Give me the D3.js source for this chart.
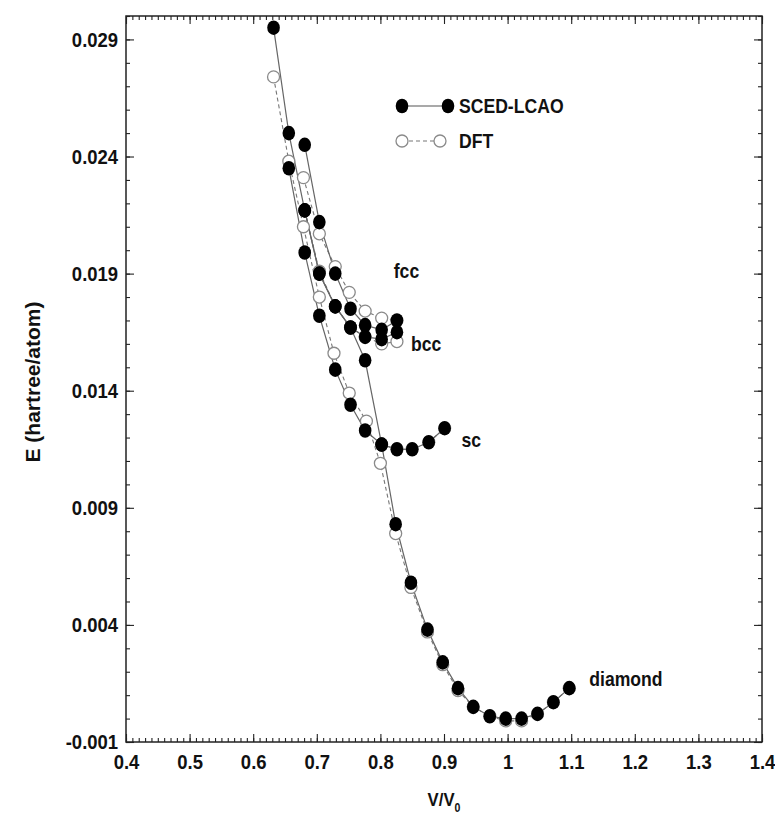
<!DOCTYPE html>
<html><head><meta charset="utf-8">
<script src="https://cdn.jsdelivr.net/npm/d3@7/dist/d3.min.js"></script>
<style>body{margin:0;background:#fff}svg{display:block}</style>
</head><body><svg id="c" width="775" height="819"></svg>
<script>
// ---- data ----
const xTickValues = [0.4,0.5,0.6,0.7,0.8,0.9,1.0,1.1,1.2,1.3,1.4];
const xTickLabels = ["0.4","0.5","0.6","0.7","0.8","0.9","1","1.1","1.2","1.3","1.4"];
const yTickValues = [-0.001,0.004,0.009,0.014,0.019,0.024,0.029];
const yTickLabels = ["-0.001","0.004","0.009","0.014","0.019","0.024","0.029"];

// SCED-LCAO (filled)
const scedDiamondV = [0.632,0.656,0.681,0.704,0.729,0.753,0.776,0.802,0.824,0.848,0.874,0.898,0.922,0.946,0.972,0.997,1.022,1.047,1.072,1.097];
const scedDiamondE = [0.0295,0.0250,0.0217,0.0190,0.0176,0.0167,0.0153,0.0117,0.0083,0.0058,0.0038,0.0024,0.0013,0.0005,0.0001,0.0000,0.0000,0.0002,0.0007,0.0013];
const scedScV = [0.656,0.681,0.704,0.729,0.753,0.776,0.802,0.826,0.850,0.876,0.901];
const scedScE = [0.0235,0.0199,0.0172,0.0149,0.0134,0.0123,0.0117,0.0115,0.0115,0.0118,0.0124];
const scedBccV = [0.681,0.704,0.729,0.753,0.776,0.802,0.826];
const scedBccE = [0.0217,0.0190,0.0176,0.0167,0.0163,0.0162,0.0165];
const scedFccV = [0.681,0.704,0.729,0.753,0.776,0.802,0.826];
const scedFccE = [0.0245,0.0212,0.0190,0.0175,0.0168,0.0166,0.0170];

// DFT (open)
const dftDiamondV = [0.632,0.656,0.679,0.704,0.727,0.751,0.778,0.800,0.824,0.848,0.874,0.898,0.922,0.946,0.972,0.997,1.022,1.047,1.072,1.097];
const dftDiamondE = [0.0274,0.0238,0.0210,0.0180,0.0156,0.0139,0.0127,0.0109,0.0079,0.0056,0.0037,0.0023,0.0012,0.0005,0.0001,-0.0001,-0.0001,0.0002,0.0007,0.0013];
const dftScV = [0.802,0.826,0.850,0.876,0.901];
const dftScE = [0.0117,0.0115,0.0115,0.0118,0.0124];
const dftBccV = [0.681,0.704,0.729,0.753,0.776,0.802,0.826];
const dftBccE = [0.0217,0.0191,0.0176,0.0167,0.0163,0.0160,0.0161];
const dftFccV = [0.679,0.704,0.729,0.751,0.776,0.802,0.826];
const dftFccE = [0.0231,0.0207,0.0193,0.0182,0.0174,0.0171,0.0170];

const structLabels = ["fcc","bcc","sc","diamond"];
const structLabelV = [0.841,0.872,0.943,1.186];
const structLabelE = [0.0191,0.0160,0.0119,0.0017];
const legendNames = ["SCED-LCAO","DFT"];

// ---- drawing ----
const svg = d3.select("#c");
const x = d3.scaleLinear().domain([0.4,1.4]).range([126,762]);
const y = d3.scaleLinear().domain([-0.001,0.030]).range([742,16]);
const FONT = "'Liberation Sans', Arial, sans-serif";
const SX = 0.88;

const zip = (a,b) => a.map((v,i)=>[v,b[i]]);
const line = d3.line().x(d=>x(d[0])).y(d=>y(d[1]));

const dft = [zip(dftDiamondV,dftDiamondE), zip(dftScV,dftScE), zip(dftBccV,dftBccE), zip(dftFccV,dftFccE)];
const sced = [zip(scedDiamondV,scedDiamondE), zip(scedScV,scedScE), zip(scedBccV,scedBccE), zip(scedFccV,scedFccE)];

const g = svg.append("g");
// DFT lines
g.selectAll(".dl").data(dft).join("path").attr("d",line)
  .attr("fill","none").attr("stroke","#777").attr("stroke-width",1.1).attr("stroke-dasharray","4,3");
// SCED lines
g.selectAll(".sl").data(sced).join("path").attr("d",line)
  .attr("fill","none").attr("stroke","#666").attr("stroke-width",1.2);
// DFT markers
dft.forEach(s=>{
  g.append("g").selectAll("circle").data(s).join("circle")
    .attr("cx",d=>x(d[0])).attr("cy",d=>y(d[1])).attr("r",6)
    .attr("fill","#fff").attr("stroke","#8a8a8a").attr("stroke-width",1.3);
});
// SCED markers
sced.forEach(s=>{
  g.append("g").selectAll("ellipse").data(s).join("ellipse")
    .attr("cx",d=>x(d[0])).attr("cy",d=>y(d[1])).attr("rx",6.3).attr("ry",7.3)
    .attr("fill","#000");
});

// frame
svg.append("rect").attr("x",126).attr("y",16).attr("width",636).attr("height",726)
  .attr("fill","none").attr("stroke","#222").attr("stroke-width",1.5);

// axes
function styleAxis(sel){ sel.select(".domain").remove(); sel.selectAll("line").attr("stroke","#222").attr("stroke-width",1.1); }
const xMinor = d3.range(40,141).map(v=>v/100);
const yMinor = d3.range(-1,31).map(v=>v/1000);

svg.append("g").attr("transform","translate(0,742)")
  .call(d3.axisBottom(x).tickValues(xMinor).tickSize(-4).tickFormat(""))
  .call(styleAxis);
svg.append("g").attr("transform","translate(0,16)")
  .call(d3.axisTop(x).tickValues(xMinor).tickSize(-4).tickFormat(""))
  .call(styleAxis);
svg.append("g").attr("transform","translate(126,0)")
  .call(d3.axisLeft(y).tickValues(yMinor).tickSize(-4).tickFormat(""))
  .call(styleAxis);
svg.append("g").attr("transform","translate(762,0)")
  .call(d3.axisRight(y).tickValues(yMinor).tickSize(-4).tickFormat(""))
  .call(styleAxis);

const xb = svg.append("g").attr("transform","translate(0,742)")
  .call(d3.axisBottom(x).tickValues(xTickValues).tickSize(-8).tickPadding(12)
    .tickFormat((d,i)=>xTickLabels[i]))
  .call(styleAxis);
svg.append("g").attr("transform","translate(0,16)")
  .call(d3.axisTop(x).tickValues(xTickValues).tickSize(-8).tickFormat(""))
  .call(styleAxis);
const yl = svg.append("g").attr("transform","translate(126,0)")
  .call(d3.axisLeft(y).tickValues(yTickValues).tickSize(-8).tickPadding(9)
    .tickFormat((d,i)=>yTickLabels[i]))
  .call(styleAxis);
svg.append("g").attr("transform","translate(762,0)")
  .call(d3.axisRight(y).tickValues(yTickValues).tickSize(-8).tickFormat(""))
  .call(styleAxis);

[xb,yl].forEach(a=>a.selectAll("text")
  .attr("font-family",FONT).attr("font-size",21).attr("font-weight","bold")
  .attr("fill","#111").attr("transform",`scale(${SX},1)`));
xb.selectAll(".tick text").attr("x",0);

// axis titles
svg.append("text").attr("transform",`translate(444,806) scale(${SX},1)`)
  .attr("text-anchor","middle").attr("font-family",FONT).attr("font-size",19).attr("font-weight","bold").attr("fill","#111")
  .text("V/V").append("tspan").attr("font-size",12).attr("dy",6).text("0");
svg.append("text").attr("transform","translate(40,382) rotate(-90)")
  .attr("text-anchor","middle").attr("font-family",FONT).attr("font-size",21).attr("font-weight","bold").attr("fill","#111")
  .text("E (hartree/atom)");

// structure labels
svg.append("g").selectAll("text").data(structLabels).join("text")
  .attr("transform",(d,i)=>`translate(${x(structLabelV[i])},${y(structLabelE[i])}) scale(${SX},1)`)
  .attr("text-anchor","middle").attr("dy","0.35em")
  .attr("font-family",FONT).attr("font-size",20).attr("font-weight","bold").attr("fill","#111")
  .text(d=>d);

// legend
const lg = svg.append("g");
lg.append("line").attr("x1",402).attr("x2",448).attr("y1",106).attr("y2",106).attr("stroke","#555").attr("stroke-width",1.2);
lg.selectAll(".lf").data([402,448]).join("ellipse").attr("cx",d=>d).attr("cy",106).attr("rx",6.3).attr("ry",7.3).attr("fill","#000");
lg.append("line").attr("x1",402).attr("x2",440).attr("y1",141).attr("y2",141).attr("stroke","#777").attr("stroke-width",1.1).attr("stroke-dasharray","4,3");
lg.selectAll(".lo").data([402,440]).join("circle").attr("cx",d=>d).attr("cy",141).attr("r",6).attr("fill","#fff").attr("stroke","#8a8a8a").attr("stroke-width",1.3);
lg.selectAll("text").data(legendNames).join("text")
  .attr("transform",(d,i)=>`translate(459,${106+35*i}) scale(${SX},1)`)
  .attr("dy","0.36em").attr("font-family",FONT).attr("font-size",20).attr("font-weight","bold").attr("fill","#111")
  .text(d=>d);
</script></body></html>
